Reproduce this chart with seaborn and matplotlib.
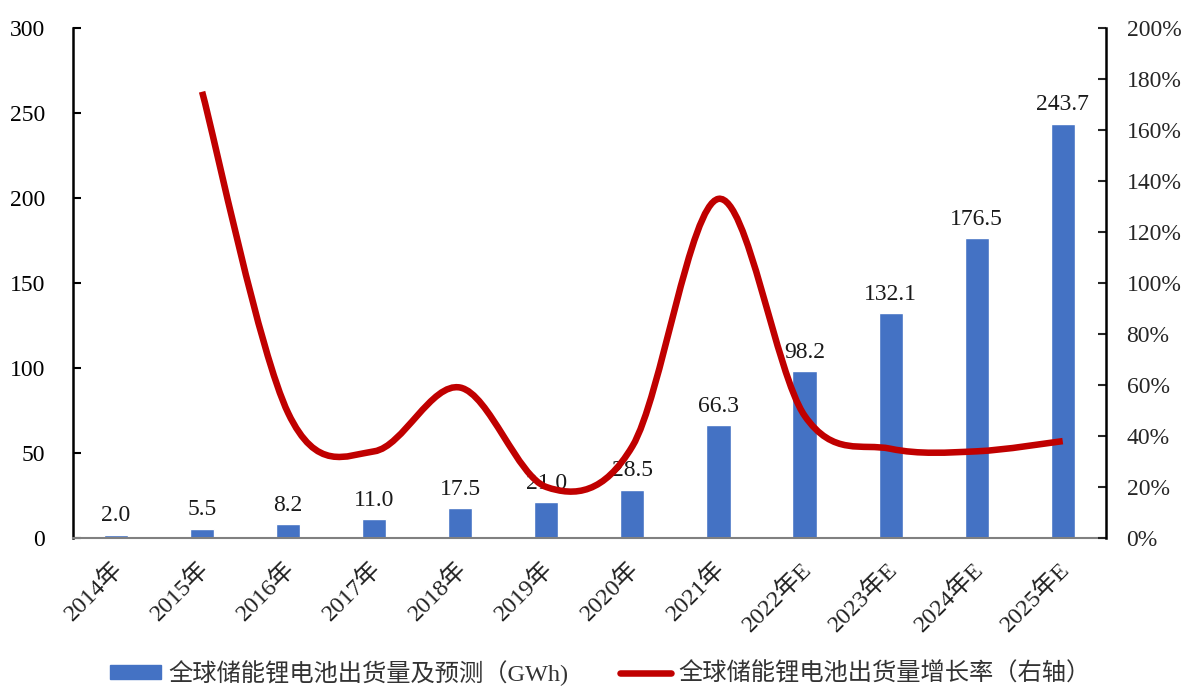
import matplotlib
matplotlib.use("Agg")
import matplotlib.pyplot as plt
import matplotlib.transforms as mtransforms
from matplotlib.path import Path
from matplotlib.patches import PathPatch
from matplotlib.lines import Line2D
from matplotlib.ticker import FuncFormatter
import seaborn as sns
import numpy as np
import pandas as pd

years = ["2014年", "2015年", "2016年", "2017年", "2018年", "2019年", "2020年",
         "2021年", "2022年E", "2023年E", "2024年E", "2025年E"]
shipments = [2.0, 5.5, 8.2, 11.0, 17.5, 21.0, 28.5, 66.3, 98.2, 132.1, 176.5, 243.7]
growth = [None, 175, 49, 34, 59, 20, 36, 133, 48, 35, 34, 38]

bar_label = "全球储能锂电池出货量及预测（GWh)"
line_label = "全球储能锂电池出货量增长率（右轴）"

sns.set_style("white")
fonts = ["Liberation Serif", "Noto Sans CJK SC", "DejaVu Sans"]
plt.rcParams["font.family"] = fonts

df = pd.DataFrame({"year": years, "value": shipments})

fig = plt.figure(figsize=(11.89, 6.86), dpi=100)
ax = fig.add_axes([0.0614, 0.2157, 0.8686, 0.7435])
sns.barplot(data=df, x="year", y="value", color="#4472C4", width=0.28,
            saturation=1, ax=ax)
ax.set_xlim(-0.5, len(years) - 0.5)
ax.set_ylim(0, 300)
ax.set_yticks(range(0, 301, 50))
ax.set_xlabel("")
ax.set_ylabel("")

for i, v in enumerate(shipments):
    ax.annotate(f"{v:.1f}", (i, v), xytext=(0, 6), textcoords="offset points",
                ha="center", va="bottom", fontsize=17, color="#1a1a1a")

ax.tick_params(axis="y", direction="in", length=6, width=1.5, labelsize=17,
               pad=20, colors="black")
ax.tick_params(axis="x", length=0, labelsize=17.5, pad=14, colors="#222222")
shift = mtransforms.ScaledTranslation(-5 / 100, 0, fig.dpi_scale_trans)
for lab in ax.get_xticklabels():
    lab.set_rotation(45)
    lab.set_ha("right")
    lab.set_rotation_mode("anchor")
    lab.set_transform(lab.get_transform() + shift)

for s in ["top", "right"]:
    ax.spines[s].set_visible(False)
ax.spines["left"].set_color("black")
ax.spines["left"].set_linewidth(1.8)
ax.spines["bottom"].set_color("#808080")
ax.spines["bottom"].set_linewidth(1.5)

ax2 = ax.twinx()
ax2.set_ylim(0, 200)
ax2.set_yticks(range(0, 201, 20))
ax2.yaxis.set_major_formatter(FuncFormatter(lambda v, p: f"{v:.0f}%"))
ax2.tick_params(axis="y", direction="in", length=6, width=1.5, labelsize=17, pad=15)
for s in ["top", "left", "bottom"]:
    ax2.spines[s].set_visible(False)
ax2.spines["right"].set_color("black")
ax2.spines["right"].set_linewidth(1.8)

# smoothed growth line (Catmull-Rom style bezier, like Excel smoothing)
pts = [(i, g) for i, g in enumerate(growth) if g is not None]
pts = np.array(pts, dtype=float)
verts = [tuple(pts[0])]
codes = [Path.MOVETO]
n = len(pts)
for k in range(n - 1):
    p0 = pts[k - 1] if k > 0 else pts[k]
    p1 = pts[k]
    p2 = pts[k + 1]
    p3 = pts[k + 2] if k + 2 < n else pts[k + 1]
    c1 = p1 + (p2 - p0) / 6.0
    c2 = p2 - (p3 - p1) / 6.0
    verts += [tuple(c1), tuple(c2), tuple(p2)]
    codes += [Path.CURVE4, Path.CURVE4, Path.CURVE4]
patch = PathPatch(Path(verts, codes), facecolor="none", edgecolor="#C00000",
                  lw=4.7, capstyle="butt", transform=ax2.transData)
ax2.add_patch(patch)

handles = [plt.Rectangle((0, 0), 1, 1, color="#4472C4"),
           Line2D([0], [0], color="#C00000", lw=4.7)]
fig.legend(handles, [bar_label, line_label], loc="center", ncol=2,
           bbox_to_anchor=(0.505, 0.019), frameon=False, fontsize=17.5,
           handlelength=2.1, handleheight=0.5, handletextpad=0.3,
           columnspacing=2.1, borderpad=0, labelcolor="#333333")

fig.savefig("out.png", dpi=100)
